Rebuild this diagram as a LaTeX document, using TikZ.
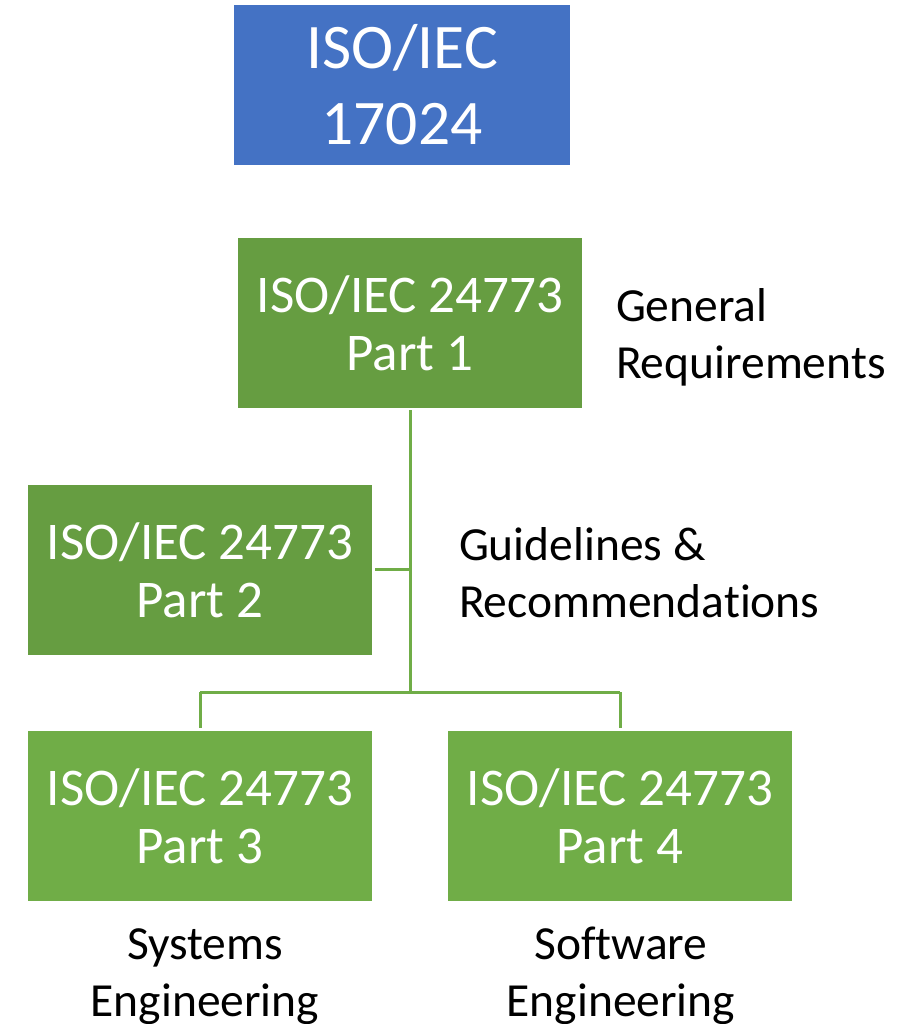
\documentclass[tikz,border=0pt]{standalone}
\usepackage{fontspec}
\setmainfont{Carlito}[Ligatures=NoCommon]
\definecolor{isoblue}{HTML}{4472C4}
\definecolor{darkgreen}{HTML}{669D41}
\definecolor{lightgreen}{HTML}{70AD47}
\begin{document}
\begin{tikzpicture}[x=1pt,y=-1pt,
  box/.style={draw=none,inner sep=0pt,outer sep=0pt,minimum width=344pt,minimum height=170pt,
    text=white,align=center,font=\fontsize{53}{58}\selectfont},
  lbl/.style={inner sep=0pt,outer sep=0pt,text=black,font=\fontsize{47.5}{57}\selectfont},
  conn/.style={draw=lightgreen,line width=3pt}]
\useasboundingbox (0,0) rectangle (914,1024);
\node[box,fill=isoblue,minimum width=336pt,minimum height=160pt,font=\fontsize{63.5}{76}\selectfont] (top) at (402,85) {ISO/IEC\\17024};
\node[box,fill=darkgreen] (p1) at (410,323) {ISO/IEC 24773\\Part 1};
\node[box,fill=darkgreen] (p2) at (200,570) {ISO/IEC 24773\\Part 2};
\node[box,fill=lightgreen] (p3) at (200,816) {ISO/IEC 24773\\Part 3};
\node[box,fill=lightgreen] (p4) at (620,816) {ISO/IEC 24773\\Part 4};
\coordinate (j2) at (410,569);
\coordinate (jb) at (410,692);
\coordinate (l3) at (200,692);
\coordinate (l4) at (620,692);
\draw[conn] ([yshift=-2pt]p1.south) -- (jb);
\draw[conn] ([xshift=3pt]p2.east |- j2) -- (j2);
\draw[conn] (l3) -- (l4);
\draw[conn] (l3) -- ([yshift=3pt]p3.north);
\draw[conn] (l4) -- ([yshift=3pt]p4.north);
\node[lbl,anchor=base west,align=left] (gr) at (616,378) {General\\Requirements};
\node[lbl,anchor=base west,align=left] (gl) at (459,617) {Guidelines \&\\Recommendations};
\node[lbl,anchor=base,align=center] (se) at (205,1016) {Systems\\Engineering};
\node[lbl,anchor=base,align=center] (sw) at (621,1016) {Software\\Engineering};
\end{tikzpicture}
\end{document}
